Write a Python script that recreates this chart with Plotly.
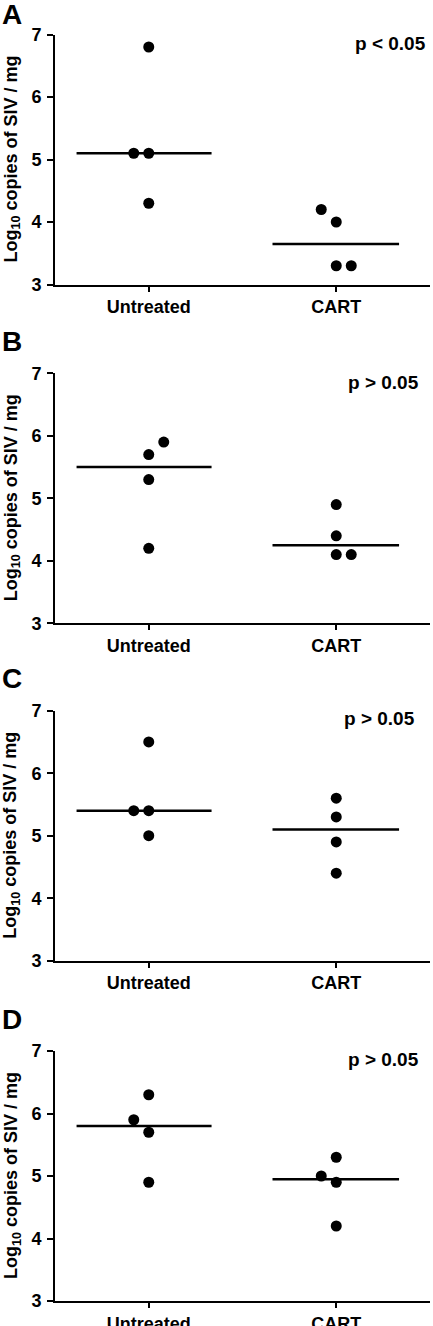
import plotly.graph_objects as go

W, H = 433, 1326

categories = ["Untreated", "CART"]
panel_labels = ["A", "B", "C", "D"]
p_texts = ["p < 0.05", "p > 0.05", "p > 0.05", "p > 0.05"]
y_ticks = [3, 4, 5, 6, 7]

# values (log10 copies of SIV / mg)
A_untreated = [6.8, 5.1, 5.1, 4.3]
A_cart = [4.2, 4.0, 3.3, 3.3]
B_untreated = [5.9, 5.7, 5.3, 4.2]
B_cart = [4.9, 4.4, 4.1, 4.1]
C_untreated = [6.5, 5.4, 5.4, 5.0]
C_cart = [5.6, 5.3, 4.9, 4.4]
D_untreated = [6.3, 5.9, 5.7, 4.9]
D_cart = [5.3, 5.0, 4.9, 4.2]

# medians shown as horizontal lines
A_median = [5.1, 3.65]
B_median = [5.5, 4.25]
C_median = [5.4, 5.1]
D_median = [5.8, 4.95]

# dodge slots for overlapping points (layout only)
A_dodge = [[0, -1, 0, 0], [-1, 0, 0, 1]]
B_dodge = [[1, 0, 0, 0], [0, 0, 0, 1]]
C_dodge = [[0, -1, 0, 0], [0, 0, 0, 0]]
D_dodge = [[0, -1, 0, 0], [0, -1, 0, 0]]

panels = [
    (A_untreated, A_cart, A_median, A_dodge),
    (B_untreated, B_cart, B_median, B_dodge),
    (C_untreated, C_cart, C_median, C_dodge),
    (D_untreated, D_cart, D_median, D_dodge),
]

# layout in pixels
y_top_px = [34.5, 373.3, 710.7, 1051.0]
plot_h_px = 250.0
x_left_px, x_right_px = 55.0, 430.0
dodge_step = 0.08
line_ext = [(-0.385, 0.335), (-0.34, 0.335)]
p_x = [1.49, 1.45, 1.43, 1.45]
p_y = [6.86, 6.85, 6.88, 6.86]
label_y_px = [15, 342, 678, 1019]

FONT = "Liberation Sans, Arial, sans-serif"

fig = go.Figure()
annotations = []
for i, (unt, cart, med, dodge) in enumerate(panels):
    ax = "" if i == 0 else str(i + 1)
    xref = "x" + ax
    yref = "y" + ax
    groups = [unt, cart]
    for g, vals in enumerate(groups):
        xs = [g + d * dodge_step for d in dodge[g]]
        fig.add_trace(go.Scatter(
            x=xs, y=vals, mode="markers", xaxis=xref, yaxis=yref,
            marker=dict(color="black", size=11, line=dict(width=0)),
            showlegend=False, hoverinfo="y"))
        lo, hi = line_ext[g]
        fig.add_trace(go.Scatter(
            x=[g + lo, g + hi], y=[med[g], med[g]], mode="lines",
            xaxis=xref, yaxis=yref, line=dict(color="black", width=2.5),
            showlegend=False, hoverinfo="skip"))
    top = y_top_px[i]
    dom_y = [1 - (top + plot_h_px) / H, 1 - top / H]
    dom_x = [x_left_px / W, x_right_px / W]
    fig.update_layout(**{
        "xaxis" + ax: dict(
            domain=dom_x, range=[-0.5, 1.5], anchor=yref, automargin=False,
            tickmode="array", tickvals=[0, 1], ticktext=categories,
            showline=True, linecolor="black", linewidth=2,
            ticks="outside", ticklen=5, tickwidth=2, tickcolor="black",
            showgrid=False, zeroline=False,
            tickfont=dict(family=FONT, size=18, color="black", weight="bold")),
        "yaxis" + ax: dict(
            domain=dom_y, range=[3, 7], anchor=xref, automargin=False,
            tickmode="array", tickvals=y_ticks,
            showline=True, linecolor="black", linewidth=2,
            ticks="outside", ticklen=6, tickwidth=2, tickcolor="black",
            showgrid=False, zeroline=False, ticklabelstandoff=2,
            tickfont=dict(family=FONT, size=18, color="black", weight="bold")),
    })
    annotations.append(dict(
        x=p_x[i], y=p_y[i], xref=xref, yref=yref, text=p_texts[i],
        showarrow=False, xanchor="right", yanchor="middle",
        font=dict(family=FONT, size=19, color="black", weight="bold")))
    annotations.append(dict(
        x=12 / W, y=(dom_y[0] + dom_y[1]) / 2, xref="paper", yref="paper",
        text="Log<sub>10</sub> copies of SIV / mg", textangle=-90,
        showarrow=False, xanchor="center", yanchor="middle",
        font=dict(family=FONT, size=18, color="black", weight="bold")))
    annotations.append(dict(
        x=0, y=1 - label_y_px[i] / H, xref="paper", yref="paper",
        text=panel_labels[i], showarrow=False, xanchor="left", yanchor="middle",
        font=dict(family=FONT, size=28, color="black", weight="bold")))

fig.update_layout(
    width=W, height=H, margin=dict(l=0, r=0, t=0, b=0),
    paper_bgcolor="white", plot_bgcolor="white",
    annotations=annotations, showlegend=False)

fig.write_html("out.html", config={"displayModeBar": False},
               post_script="document.body.style.margin='0';document.body.style.overflow='hidden';")
